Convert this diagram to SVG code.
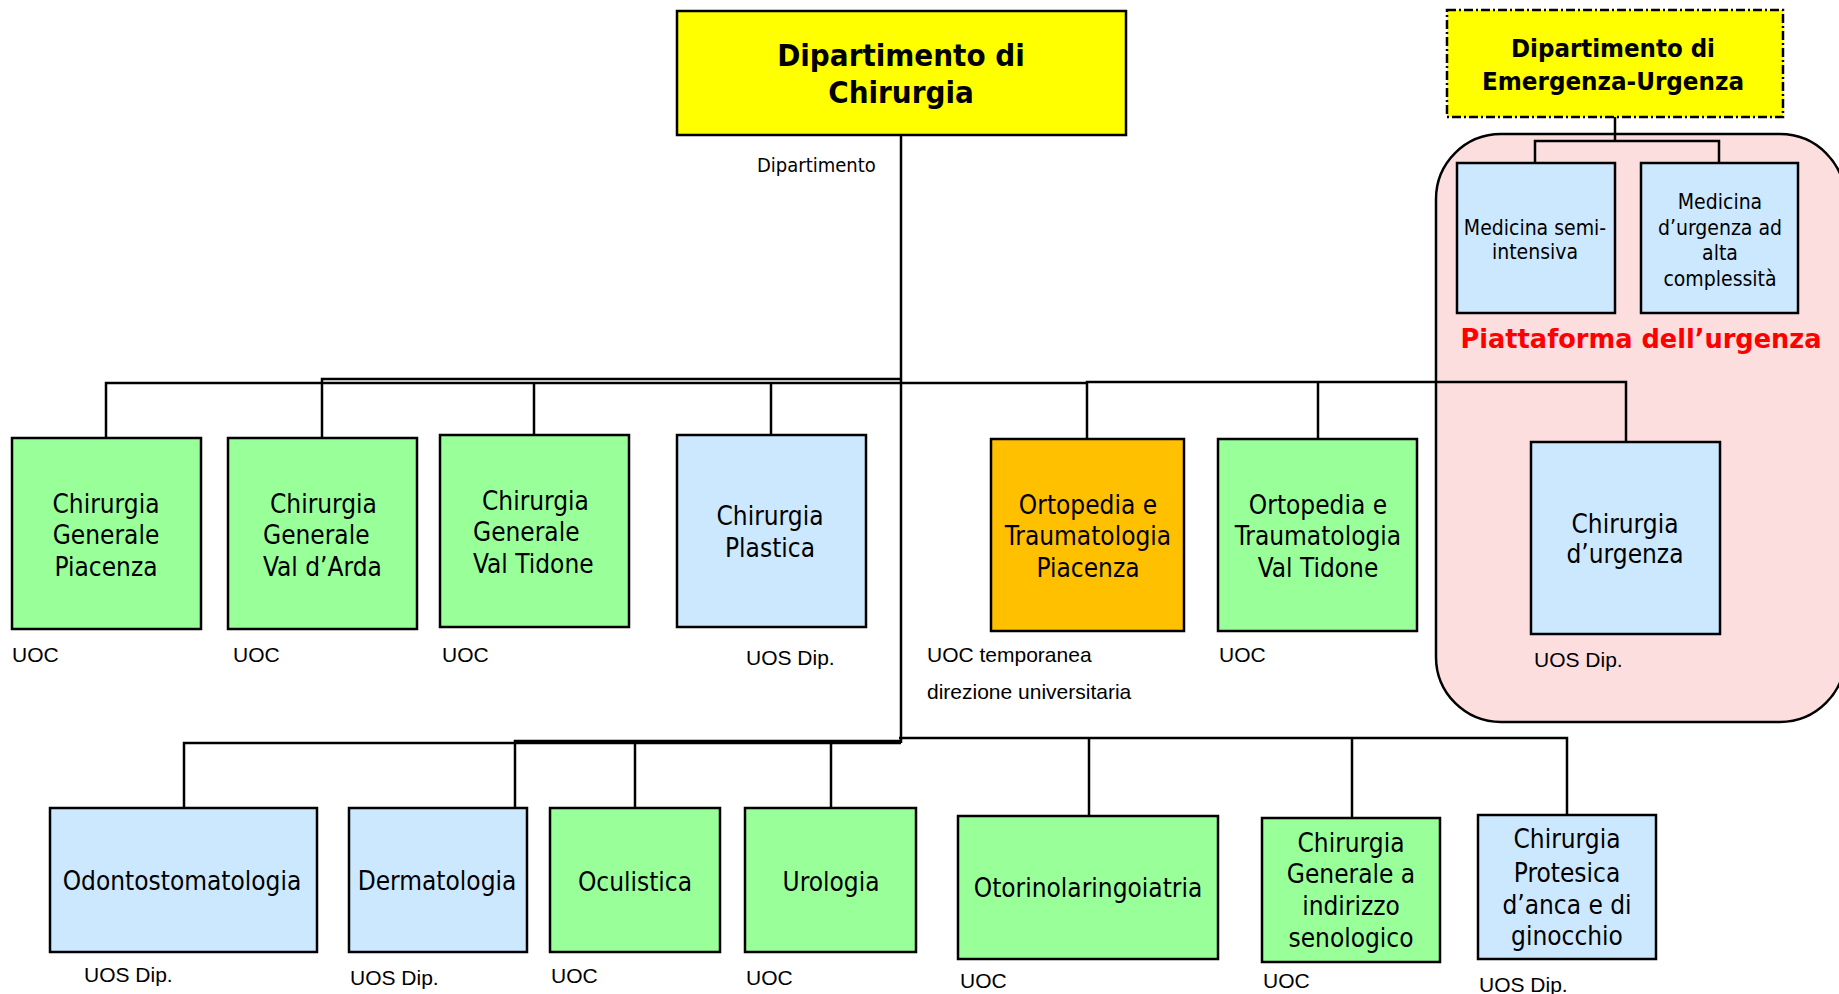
<svg xmlns="http://www.w3.org/2000/svg" width="1839" height="994" viewBox="0 0 1839 994">
<style>
.bx{stroke:#000;stroke-width:2.5}
.g{fill:#99FF99}
.b{fill:#CCE8FF}
.y{fill:#FFFF00}
.o{fill:#FFC000}
.t{font-family:"DejaVu Sans Condensed","DejaVu Sans",sans-serif;font-stretch:condensed;font-size:26px;fill:#000}
.tc{text-anchor:middle}
.ts{font-family:"DejaVu Sans Condensed","DejaVu Sans",sans-serif;font-stretch:condensed;font-size:21px;fill:#000;text-anchor:middle}
.tb{font-family:"DejaVu Sans Condensed","DejaVu Sans",sans-serif;font-stretch:condensed;font-weight:bold;fill:#000;text-anchor:middle}
.lb{font-family:"Liberation Sans",Arial,sans-serif;font-size:21px;fill:#000}
.cn{fill:none;stroke:#000;stroke-width:2.5}
</style>
<rect id="piattaforma-bg" x="1436" y="134" width="409" height="588" rx="65" ry="65" fill="#FDDEDF" stroke="#000" stroke-width="2.5"/>
<g id="connectors">
<path class="cn" d="M901,135 V743" stroke-width="3.2"/>
<path class="cn" d="M106,438 V383 H901"/>
<path class="cn" d="M322,438 V379 H901"/>
<path class="cn" d="M534,435 V382"/>
<path class="cn" d="M771,435 V383"/>
<path class="cn" d="M901,383 H1087" stroke-width="4.5"/>
<path class="cn" d="M1087,439 V382 H1626 V442"/>
<path class="cn" d="M1318,439 V382"/>
<path class="cn" d="M1615,117 V141 M1535,163 V141 H1719 V163"/>
<path class="cn" d="M184,808 V743 H901"/>
<path class="cn" d="M515,808 V741 H901"/>
<path class="cn" d="M635,808 V742"/>
<path class="cn" d="M831,808 V742"/>
<path class="cn" d="M899,738 H1567 V815"/>
<path class="cn" d="M1089,816 V738"/>
<path class="cn" d="M1352,818 V738"/>
</g>
<g id="dip-chirurgia">
<rect class="bx y" x="677" y="11" width="449" height="124"/>
<text class="tb" x="901" y="66" font-size="31">Dipartimento di</text>
<text class="tb" x="901" y="103" font-size="31">Chirurgia</text>
<text class="t" x="757" y="172" style="font-size:20px">Dipartimento</text>
</g>
<g id="dip-emergenza">
<rect class="y" x="1447" y="10" width="336" height="107" stroke="#000" stroke-width="2.5" stroke-dasharray="9 3 2 3"/>
<text class="tb" x="1613" y="57" font-size="25" textLength="204" lengthAdjust="spacingAndGlyphs">Dipartimento di</text>
<text class="tb" x="1613" y="90" font-size="25" textLength="262" lengthAdjust="spacingAndGlyphs">Emergenza-Urgenza</text>
</g>
<g id="medicina-semi-intensiva">
<rect class="bx b" x="1457" y="163" width="158" height="150"/>
<text class="ts" x="1535" y="235">Medicina semi-</text>
<text class="ts" x="1535" y="259">intensiva</text>
</g>
<g id="medicina-urgenza">
<rect class="bx b" x="1641" y="163" width="157" height="150"/>
<text class="ts" x="1720" y="209">Medicina</text>
<text class="ts" x="1720" y="235">d’urgenza ad</text>
<text class="ts" x="1720" y="260">alta</text>
<text class="ts" x="1720" y="286">complessità</text>
</g>
<text id="piattaforma-label" class="tb" x="1641" y="348" font-size="26" textLength="361" lengthAdjust="spacingAndGlyphs" style="fill:#FF0000">Piattaforma dell’urgenza</text>
<g id="cg-piacenza">
<rect class="bx g" x="12" y="438" width="189" height="191"/>
<text class="t tc" x="106" y="513">Chirurgia</text>
<text class="t tc" x="106" y="544">Generale</text>
<text class="t tc" x="106" y="576">Piacenza</text>
<text class="lb" x="12" y="662">UOC</text>
</g>
<g id="cg-valdarda">
<rect class="bx g" x="228" y="438" width="189" height="191"/>
<text class="t" x="270" y="513">Chirurgia</text>
<text class="t" x="263" y="544">Generale</text>
<text class="t" x="263" y="576">Val d’Arda</text>
<text class="lb" x="233" y="662">UOC</text>
</g>
<g id="cg-valtidone">
<rect class="bx g" x="440" y="435" width="189" height="192"/>
<text class="t" x="482" y="510">Chirurgia</text>
<text class="t" x="473" y="541">Generale</text>
<text class="t" x="473" y="573">Val Tidone</text>
<text class="lb" x="442" y="662">UOC</text>
</g>
<g id="chirurgia-plastica">
<rect class="bx b" x="677" y="435" width="189" height="192"/>
<text class="t tc" x="770" y="525">Chirurgia</text>
<text class="t tc" x="770" y="557">Plastica</text>
<text class="lb" x="746" y="665">UOS Dip.</text>
</g>
<g id="ortopedia-piacenza">
<rect class="bx o" x="991" y="439" width="193" height="192"/>
<text class="t tc" x="1088" y="514">Ortopedia e</text>
<text class="t tc" x="1088" y="545">Traumatologia</text>
<text class="t tc" x="1088" y="577">Piacenza</text>
<text class="lb" x="927" y="662">UOC temporanea</text>
<text class="lb" x="927" y="699">direzione universitaria</text>
</g>
<g id="ortopedia-valtidone">
<rect class="bx g" x="1218" y="439" width="199" height="192"/>
<text class="t tc" x="1318" y="514">Ortopedia e</text>
<text class="t tc" x="1318" y="545">Traumatologia</text>
<text class="t tc" x="1318" y="577">Val Tidone</text>
<text class="lb" x="1219" y="662">UOC</text>
</g>
<g id="chirurgia-urgenza">
<rect class="bx b" x="1531" y="442" width="189" height="192"/>
<text class="t tc" x="1625" y="533">Chirurgia</text>
<text class="t tc" x="1625" y="563">d’urgenza</text>
<text class="lb" x="1534" y="667">UOS Dip.</text>
</g>
<g id="odontostomatologia">
<rect class="bx b" x="50" y="808" width="267" height="144"/>
<text class="t tc" x="182" y="890">Odontostomatologia</text>
<text class="lb" x="84" y="982">UOS Dip.</text>
</g>
<g id="dermatologia">
<rect class="bx b" x="349" y="808" width="178" height="144"/>
<text class="t tc" x="437" y="890">Dermatologia</text>
<text class="lb" x="350" y="985">UOS Dip.</text>
</g>
<g id="oculistica">
<rect class="bx g" x="550" y="808" width="170" height="144"/>
<text class="t tc" x="635" y="891">Oculistica</text>
<text class="lb" x="551" y="983">UOC</text>
</g>
<g id="urologia">
<rect class="bx g" x="745" y="808" width="171" height="144"/>
<text class="t tc" x="831" y="891">Urologia</text>
<text class="lb" x="746" y="985">UOC</text>
</g>
<g id="otorinolaringoiatria">
<rect class="bx g" x="958" y="816" width="260" height="143"/>
<text class="t tc" x="1088" y="897">Otorinolaringoiatria</text>
<text class="lb" x="960" y="988">UOC</text>
</g>
<g id="cg-senologico">
<rect class="bx g" x="1262" y="818" width="178" height="144"/>
<text class="t tc" x="1351" y="852">Chirurgia</text>
<text class="t tc" x="1351" y="883">Generale a</text>
<text class="t tc" x="1351" y="915">indirizzo</text>
<text class="t tc" x="1351" y="947">senologico</text>
<text class="lb" x="1263" y="988">UOC</text>
</g>
<g id="chirurgia-protesica">
<rect class="bx b" x="1478" y="815" width="178" height="144"/>
<text class="t tc" x="1567" y="848">Chirurgia</text>
<text class="t tc" x="1567" y="882">Protesica</text>
<text class="t tc" x="1567" y="914">d’anca e di</text>
<text class="t tc" x="1567" y="945">ginocchio</text>
<text class="lb" x="1479" y="992">UOS Dip.</text>
</g>
</svg>
